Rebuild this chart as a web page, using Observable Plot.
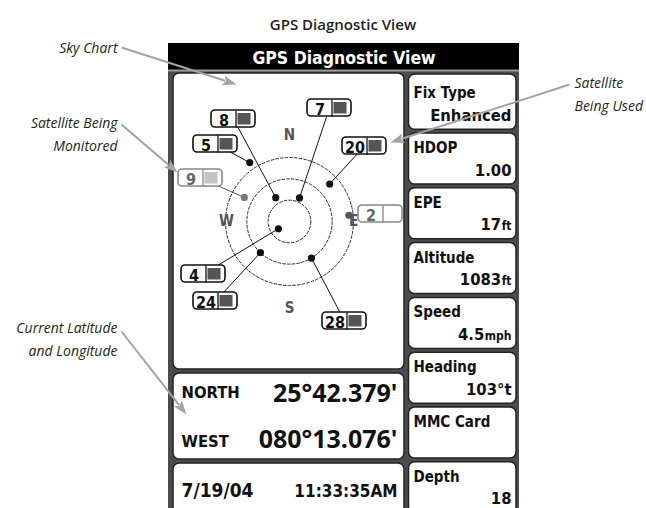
<!DOCTYPE html>
<html><head><meta charset="utf-8">
<script src="https://cdn.jsdelivr.net/npm/d3@7"></script>
<script src="https://cdn.jsdelivr.net/npm/@observablehq/plot@0.6"></script>
<style>body{margin:0;background:#fff}</style>
</head><body><div id="chart"></div>
<script>
// ---------------- data ----------------
const figureTitle = "GPS Diagnostic View";
const deviceTitle = "GPS Diagnostic View";
const satIds = ["8", "7", "5", "20", "9", "2", "4", "24", "28"];
const satAzimuth = [330, 23, 326, 47, 298, 84, 237, 223, 149];
const satElevation = [61, 63, 15, 32, 36, 27, 76, 45, 45];
const satStatus = ["used", "used", "used", "used", "monitored", "searching", "used", "used", "used"];
const ringElevations = [67.5, 45, 22.5];
const compassLabels = ["N", "E", "S", "W"];
const compassAzimuth = [0, 90, 180, 270];
const panelLabels = ["Fix Type", "HDOP", "EPE", "Altitude", "Speed", "Heading", "MMC Card", "Depth"];
const panelValues = ["Enhanced", "1.00", "17", "1083", "4.5", "103°t", "", "18"];
const panelUnits = ["", "", "ft", "ft", "mph", "", "", ""];
const positionLabels = ["NORTH", "WEST"];
const positionValues = ["25°42.379'", "080°13.076'"];
const dateText = "7/19/04";
const timeText = "11:33:35AM";
const calloutTexts = ["Sky Chart", "Satellite Being\nMonitored", "Current Latitude\nand Longitude", "Satellite\nBeing Used"];

// ---------------- layout ----------------
const W = 646, H = 508;
const skyCenter = [289, 221];
const horizonRadius = 85.3;
const labelBoxes = [[211,110],[307,99],[193,135],[342,137],[178,169],[358,205],[181,265],[193,292],[322,312]];
const compassRadius = [86, 64, 87, 63];
const callouts = [
  {tx: 117, ty: 52, anchor: "end", sx: 121, sy: 47, ex: 236, ey: 84},
  {tx: 117, ty: 150, anchor: "end", sx: 121, sy: 124, ex: 177, ey: 172},
  {tx: 117, ty: 355, anchor: "end", sx: 121, sy: 331, ex: 186, ey: 414},
  {tx: 574, ty: 110, anchor: "start", sx: 569, sy: 84, ex: 390, ey: 142}
];
const DEV = "'DejaVu Sans Condensed','Liberation Sans Narrow','DejaVu Sans',sans-serif";
const DOC = "'Open Sans','Noto Sans',sans-serif";

function project(az, el) {
  const r = (90 - el) / 90 * horizonRadius, a = az * Math.PI / 180;
  return [skyCenter[0] + r * Math.sin(a), skyCenter[1] - r * Math.cos(a)];
}
function projectPx(az, r) {
  const a = az * Math.PI / 180;
  return [skyCenter[0] + r * Math.sin(a), skyCenter[1] - r * Math.cos(a)];
}
const measureCtx = document.createElement("canvas").getContext("2d");
function textWidth(t, font) { measureCtx.font = font; return measureCtx.measureText(t).width; }

const sats = satIds.map((id, i) => {
  const [x, y] = project(satAzimuth[i], satElevation[i]);
  const [bx, by] = labelBoxes[i];
  return {id, status: satStatus[i], x, y, bx, by};
});
const compass = compassLabels.map((t, i) => {
  const [x, y] = projectPx(compassAzimuth[i], compassRadius[i]);
  return {t, x, y};
});
const rightPanels = panelLabels.map((label, i) => {
  const top = 78.2 + 54.8 * i;
  const unit = panelUnits[i];
  const uw = unit ? textWidth(unit, `bold 12px ${DEV}`) + 0.5 : 0;
  return {label, value: panelValues[i], unit, top, y1: i === 0 ? 74 : top, y2: top + 51, vx: 511 - uw};
});
const leftPanels = [{y1: 73, y2: 369}, {y1: 373, y2: 459}, {y1: 463, y2: 515}];

const calloutRows = calloutTexts.map((text, i) => ({text, ...callouts[i]}));
const heads = [], shafts = [];
callouts.forEach((c, k) => {
  const dx = c.ex - c.sx, dy = c.ey - c.sy, len = Math.hypot(dx, dy);
  const ux = dx / len, uy = dy / len, L = 14, w = 5;
  const bx = c.ex - ux * L, by = c.ey - uy * L;
  shafts.push({x1: c.sx, y1: c.sy, x2: bx + ux * 2, y2: by + uy * 2});
  heads.push({k, x: c.ex, y: c.ey}, {k, x: bx - uy * w, y: by + ux * w}, {k, x: bx + ux * 3, y: by + uy * 3}, {k, x: bx + uy * w, y: by - ux * w}, {k, x: c.ex, y: c.ey});
});

const boxStroke = d => d.status === "used" ? "#111" : "#888";
const sqFill = d => d.status === "used" ? "#555" : d.status === "monitored" ? "#c4c4c4" : "white";
const dotFill = d => d.status === "used" ? "#111" : d.status === "monitored" ? "#777" : "#555";

const chart = Plot.plot({
  width: W, height: H, margin: 0,
  x: {type: "linear", domain: [0, W], range: [0, W], axis: null},
  y: {type: "linear", domain: [0, H], range: [0, H], axis: null},
  r: {type: "linear", domain: [0, 90], range: [0, horizonRadius]},
  style: {background: "white"},
  marks: [
    Plot.text([figureTitle], {x: () => 342.5, y: () => 29, text: d => d, fontFamily: DOC, fontWeight: 600, fontSize: 15, fill: "#231f20", lineAnchor: "bottom"}),
    // device frame
    Plot.rect([0], {x1: () => 168, x2: () => 519, y1: () => 70, y2: () => 520, fill: "#4c4c4c"}),
    Plot.rect([0], {x1: () => 168, x2: () => 519, y1: () => 43, y2: () => 70, fill: "#000"}),
    Plot.rect([0], {x1: () => 168, x2: () => 519, y1: () => 69.5, y2: () => 71.5, fill: "#9a9a9a"}),
    Plot.text([deviceTitle], {x: () => 343.5, y: () => 63, text: d => d, fontFamily: DEV, fontWeight: "bold", fontSize: 17.5, fill: "white", lineAnchor: "bottom"}),
    Plot.rect(leftPanels, {x1: () => 173, x2: () => 404, y1: "y1", y2: "y2", fill: "white", stroke: "#222", strokeWidth: 1.5, rx: 6}),
    Plot.rect(rightPanels, {x1: () => 408.5, x2: () => 516, y1: "y1", y2: "y2", fill: "white", stroke: "#222", strokeWidth: 1.5, rx: 6}),
    // sky chart
    Plot.dot(ringElevations, {x: () => skyCenter[0], y: () => skyCenter[1], r: d => 90 - d, stroke: "#2a2a2a", strokeWidth: 1, strokeDasharray: "3.5,1.2", fill: "none"}),
    Plot.text(compass, {x: "x", y: "y", text: "t", fontFamily: DEV, fontWeight: "bold", fontSize: 15, fill: "#555"}),
    Plot.link(sats, {x1: "x", y1: "y", x2: d => d.bx + 22, y2: d => d.by + 8.5, stroke: d => d.status === "used" ? "#111" : "#555", strokeWidth: 1}),
    Plot.dot(sats, {x: "x", y: "y", r: () => 3.8, fill: dotFill, stroke: "none"}),
    Plot.rect(sats, {x1: "bx", x2: d => d.bx + 44, y1: "by", y2: d => d.by + 17, fill: "white", stroke: boxStroke, strokeWidth: 1.6, rx: 4}),
    Plot.link(sats, {x1: d => d.bx + 24.5, x2: d => d.bx + 24.5, y1: "by", y2: d => d.by + 17, stroke: boxStroke, strokeWidth: 1.3}),
    Plot.rect(sats, {x1: d => d.bx + 26.5, x2: d => d.bx + 39.5, y1: d => d.by + 3, y2: d => d.by + 14.5, fill: sqFill}),
    Plot.text(sats, {x: d => d.bx + 12.5, y: d => d.by + 15, text: "id", fontFamily: DEV, fontWeight: "bold", fontSize: 16, fill: d => d.status === "used" ? "#111" : "#666", lineAnchor: "bottom"}),
    // right panels text
    Plot.text(rightPanels, {x: () => 413, y: d => d.top + 19.5, text: "label", fontFamily: DEV, fontWeight: "bold", fontSize: 15, fill: "#111", textAnchor: "start", lineAnchor: "bottom"}),
    Plot.text(rightPanels, {x: "vx", y: d => d.top + 42, text: "value", fontFamily: DEV, fontWeight: "bold", fontSize: 16.5, fill: "#111", textAnchor: "end", lineAnchor: "bottom"}),
    Plot.text(rightPanels, {x: () => 511, y: d => d.top + 42, text: "unit", fontFamily: DEV, fontWeight: "bold", fontSize: 12, fill: "#111", textAnchor: "end", lineAnchor: "bottom"}),
    // position + date
    Plot.text(positionLabels, {x: () => 181, y: (d, i) => [397, 446][i], text: d => d, fontFamily: DEV, fontWeight: "bold", fontSize: 16.5, fill: "#111", textAnchor: "start", lineAnchor: "bottom"}),
    Plot.text(positionValues, {x: () => 397, y: (d, i) => [401, 447.5][i], text: d => d, fontFamily: DOC, fontWeight: 700, fontSize: 25, fill: "#111", textAnchor: "end", lineAnchor: "bottom"}),
    Plot.text([dateText], {x: () => 181, y: () => 496, text: d => d, fontFamily: DEV, fontWeight: "bold", fontSize: 19, fill: "#111", textAnchor: "start", lineAnchor: "bottom"}),
    Plot.text([timeText], {x: () => 397, y: () => 496, text: d => d, fontFamily: DEV, fontWeight: "bold", fontSize: 17, fill: "#111", textAnchor: "end", lineAnchor: "bottom"}),
    // callouts
    Plot.link(shafts, {x1: "x1", y1: "y1", x2: "x2", y2: "y2", stroke: "#a3a3a3", strokeWidth: 2}),
    Plot.line(heads, {x: "x", y: "y", z: "k", fill: "#a3a3a3", stroke: "none"}),
    Plot.text(calloutRows.filter(d => d.anchor === "end"), {x: "tx", y: "ty", text: "text", textAnchor: "end", fontFamily: DOC, fontStyle: "italic", fontSize: 14, lineHeight: 1.6, fill: "#231f20", lineAnchor: "bottom"}),
    Plot.text(calloutRows.filter(d => d.anchor === "start"), {x: "tx", y: "ty", text: "text", textAnchor: "start", fontFamily: DOC, fontStyle: "italic", fontSize: 14, lineHeight: 1.6, fill: "#231f20", lineAnchor: "bottom"})
  ]
});
document.getElementById("chart").appendChild(chart);
</script>
</body></html>
